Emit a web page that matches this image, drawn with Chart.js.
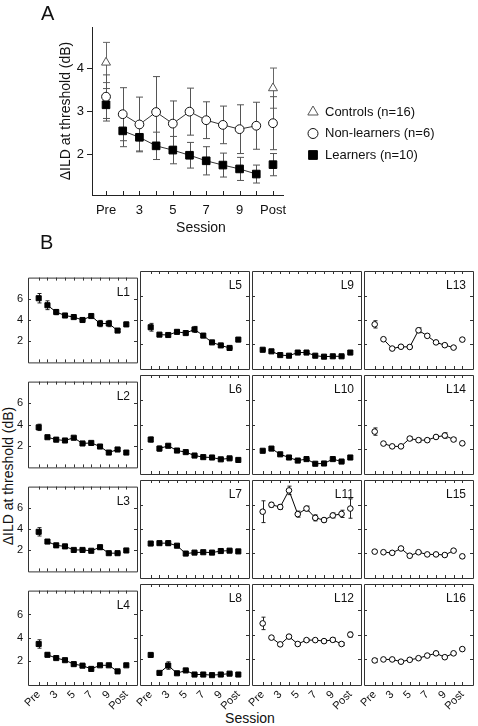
<!DOCTYPE html>
<html>
<head>
<meta charset="utf-8">
<script src="https://cdn.jsdelivr.net/npm/chart.js@4.4.0/dist/chart.umd.min.js"></script>
<style>
  body { margin: 0; background: #fff; }
  #wrap { position: relative; width: 478px; height: 726px; overflow: hidden; font-family: "Liberation Sans", Arial, sans-serif; color: #111; }
  #wrap canvas { position: absolute; }
  .txt { position: absolute; white-space: nowrap; }
</style>
</head>
<body>
<div id="wrap">
  <canvas id="chartA" width="478" height="240" style="left:0;top:0"></canvas>
  <div class="txt" style="left:41px;top:2px;font-size:20px">A</div>
  <div class="txt" style="left:151px;top:219px;width:100px;text-align:center;font-size:14px">Session</div>
  <div class="txt" style="left:40px;top:231px;font-size:20px">B</div>
  <div class="txt" style="left:-92px;top:468px;width:200px;text-align:center;font-size:14px;transform:rotate(-90deg)">ΔILD at threshold (dB)</div>
  <div class="txt" style="left:200px;top:710px;width:100px;text-align:center;font-size:14px">Session</div>
</div>
<script>
// session axis: index 0 = Pre, 1..9 = sessions 2..10, 10 = Post
const sessionIdx = [0, 1, 2, 3, 4, 5, 6, 7, 8, 9, 10];
const tickLabels = ['Pre', '', '3', '', '5', '', '7', '', '9', '', 'Post'];
const yTicksA = [2, 3, 4];
const yTicksB = [2, 4, 6];

// panel A: group means and half error bars
const controlsMean = [4.15, null, null, null, null, null, null, null, null, null, 3.55];
const controlsErr = [0.47, 0, 0, 0, 0, 0, 0, 0, 0, 0, 0.47];
const nonLearnersMean = [3.35, 2.94, 2.70, 2.99, 2.72, 3.00, 2.80, 2.69, 2.59, 2.67, 2.73];
const nonLearnersErr = [0.51, 0.62, 0.64, 0.83, 0.53, 0.55, 0.43, 0.44, 0.57, 0.55, 0.62];
const learnersMean = [3.16, 2.55, 2.40, 2.20, 2.10, 1.98, 1.85, 1.75, 1.66, 1.54, 1.76];
const learnersErr = [0.38, 0.37, 0.32, 0.32, 0.32, 0.30, 0.33, 0.28, 0.27, 0.21, 0.26];

// panel B: individual listeners (L1-L10 learners, L11-L16 non-learners)
const L1 = [6.08, 5.41, 4.76, 4.43, 4.28, 4.00, 4.38, 3.66, 3.66, 2.99, 3.58];
const L1e = [0.45, 0.42, 0.25, 0.12, 0.08, 0.08, 0.12, 0.30, 0.30, 0.12, 0.20];
const L2 = [3.73, 2.80, 2.57, 2.49, 2.75, 2.21, 2.26, 1.92, 1.35, 1.64, 1.35];
const L2e = [0.30, 0.08, 0.08, 0.08, 0.08, 0.08, 0.12, 0.08, 0.08, 0.12, 0.12];
const L3 = [3.73, 2.80, 2.44, 2.34, 2.00, 2.00, 1.92, 2.26, 1.69, 1.69, 1.95];
const L3e = [0.40, 0.10, 0.15, 0.10, 0.08, 0.08, 0.08, 0.20, 0.05, 0.05, 0.08];
const L4 = [3.47, 2.54, 2.26, 2.08, 1.74, 1.61, 1.33, 1.64, 1.64, 1.12, 1.64];
const L4e = [0.36, 0.15, 0.08, 0.10, 0.08, 0.08, 0.08, 0.08, 0.08, 0.05, 0.08];
const L5 = [3.40, 2.79, 2.76, 3.02, 2.92, 3.22, 2.71, 2.15, 1.90, 1.69, 2.38];
const L5e = [0.32, 0.08, 0.10, 0.15, 0.10, 0.25, 0.15, 0.05, 0.05, 0.05, 0.15];
const L6 = [2.77, 2.03, 2.26, 1.87, 1.74, 1.46, 1.33, 1.30, 1.15, 1.23, 1.10];
const L6e = [0.20, 0.20, 0.10, 0.05, 0.05, 0.05, 0.05, 0.05, 0.05, 0.05, 0.05];
const L7 = [2.80, 2.83, 2.83, 2.62, 1.97, 2.05, 2.08, 2.05, 2.18, 2.21, 2.15];
const L7e = [0.08, 0.12, 0.20, 0.08, 0.05, 0.05, 0.05, 0.05, 0.08, 0.05, 0.08];
const L8 = [2.36, 0.92, 1.51, 0.89, 1.12, 0.79, 0.79, 0.74, 0.79, 0.86, 0.79];
const L8e = [0.08, 0.05, 0.30, 0.05, 0.05, 0.05, 0.05, 0.05, 0.05, 0.05, 0.05];
const L9 = [1.54, 1.41, 1.10, 1.05, 1.31, 1.31, 1.05, 0.97, 1.00, 1.00, 1.31];
const L9e = [0.05, 0.05, 0.05, 0.05, 0.05, 0.05, 0.05, 0.05, 0.05, 0.05, 0.12];
const L10 = [1.85, 2.03, 1.56, 1.30, 1.05, 1.17, 0.79, 0.81, 1.17, 0.97, 1.30];
const L10e = [0.05, 0.05, 0.05, 0.05, 0.05, 0.05, 0.05, 0.05, 0.05, 0.05, 0.15];
const L11 = [5.43, 6.00, 5.82, 7.19, 5.23, 5.69, 4.92, 4.74, 5.12, 5.25, 5.69];
const L11e = [0.90, 0.20, 0.20, 0.35, 0.25, 0.20, 0.25, 0.15, 0.20, 0.30, 0.80];
const L12 = [4.89, 3.75, 3.21, 3.83, 3.24, 3.55, 3.55, 3.47, 3.57, 3.24, 3.99];
const L12e = [0.50, 0.12, 0.05, 0.10, 0.10, 0.08, 0.08, 0.12, 0.15, 0.12, 0.20];
const L13 = [3.64, 2.41, 1.64, 1.79, 1.77, 3.15, 2.69, 2.15, 1.92, 1.72, 2.38];
const L13e = [0.30, 0.08, 0.05, 0.05, 0.05, 0.20, 0.12, 0.05, 0.05, 0.05, 0.12];
const L14 = [3.42, 2.44, 2.21, 2.21, 2.85, 2.72, 2.72, 2.98, 3.10, 2.77, 2.46];
const L14e = [0.30, 0.05, 0.05, 0.08, 0.15, 0.15, 0.12, 0.10, 0.22, 0.12, 0.10];
const L15 = [2.13, 2.08, 2.03, 2.39, 1.79, 2.08, 1.90, 1.90, 1.85, 2.21, 1.74];
const L15e = [0.05, 0.10, 0.05, 0.10, 0.05, 0.05, 0.05, 0.05, 0.05, 0.05, 0.15];
const L16 = [1.92, 2.00, 2.00, 1.82, 1.97, 2.10, 2.31, 2.49, 2.18, 2.49, 2.83];
const L16e = [0.15, 0.05, 0.05, 0.05, 0.05, 0.05, 0.05, 0.10, 0.05, 0.05, 0.05];

const listenerMeans = [L1, L2, L3, L4, L5, L6, L7, L8, L9, L10, L11, L12, L13, L14, L15, L16];
const listenerErrs = [L1e, L2e, L3e, L4e, L5e, L6e, L7e, L8e, L9e, L10e, L11e, L12e, L13e, L14e, L15e, L16e];

Chart.defaults.font.family = '"Liberation Sans", Arial, sans-serif';
Chart.defaults.color = '#111';

const toPoints = arr => arr.map((v, i) => ({ x: sessionIdx[i], y: v }));
// Pre and Post are not joined to the training sessions
const hideEnds = color => ctx => (ctx.p0DataIndex === 0 || ctx.p1DataIndex === 10) ? 'rgba(0,0,0,0)' : color;

const errorBars = {
  id: 'errorBars',
  beforeDatasetsDraw(chart) {
    const { ctx, scales: { x, y } } = chart;
    ctx.save();
    ctx.lineWidth = 1;
    chart.data.datasets.forEach(ds => {
      if (!ds.errors) return;
      ctx.strokeStyle = ds.errorColor || '#000';
      const w = (ds.capWidth || 4) / 2;
      ds.data.forEach((p, i) => {
        const e = ds.errors[i];
        if (p.y == null || !e) return;
        const px = Math.round(x.getPixelForValue(p.x)) + 0.5;
        const t = y.getPixelForValue(p.y + e);
        const b = y.getPixelForValue(p.y - e);
        ctx.beginPath();
        ctx.moveTo(px, t); ctx.lineTo(px, b);
        ctx.moveTo(px - w, t); ctx.lineTo(px + w, t);
        ctx.moveTo(px - w, b); ctx.lineTo(px + w, b);
        ctx.stroke();
      });
    });
    ctx.restore();
  }
};

// panel box, inward tick marks and panel name
const panelFrame = {
  id: 'panelFrame',
  afterDraw(chart, args, o) {
    const { ctx, chartArea: a, scales: { x, y } } = chart;
    const len = o.len || 3;
    ctx.save();
    ctx.strokeStyle = o.color || '#333';
    ctx.lineWidth = 1;
    ctx.beginPath();
    if (o.box) ctx.rect(a.left + 0.5, a.top + 0.5, a.width, a.height);
    (o.xTicks || []).forEach(v => {
      const px = Math.round(x.getPixelForValue(v)) + 0.5;
      ctx.moveTo(px, a.bottom); ctx.lineTo(px, a.bottom - len);
      if (o.box) { ctx.moveTo(px, a.top); ctx.lineTo(px, a.top + len); }
    });
    (o.yTicks || []).forEach(v => {
      const py = Math.round(y.getPixelForValue(v)) + 0.5;
      ctx.moveTo(a.left, py); ctx.lineTo(a.left + len, py);
      if (o.box) { ctx.moveTo(a.right, py); ctx.lineTo(a.right - len, py); }
    });
    ctx.stroke();
    if (o.label) {
      ctx.fillStyle = '#111';
      ctx.font = '12px "Liberation Sans", Arial, sans-serif';
      ctx.textAlign = 'right';
      ctx.textBaseline = 'middle';
      ctx.fillText(o.label, a.right - 7, a.top + 15);
    }
    ctx.restore();
  }
};

const sideLegend = {
  id: 'sideLegend',
  afterDraw(chart, args, o) {
    if (!o.x) return;
    const { ctx } = chart;
    ctx.save();
    chart.data.datasets.forEach((ds, k) => {
      const cy = o.y + k * o.gap;
      ctx.fillStyle = ds.pointBackgroundColor;
      ctx.strokeStyle = ds.pointBorderColor;
      ctx.lineWidth = 1;
      Chart.helpers.drawPoint(ctx, { pointStyle: ds.pointStyle, radius: ds.legendRadius, borderWidth: 1, rotation: 0 }, o.x, cy);
      ctx.fillStyle = '#111';
      ctx.font = '13px "Liberation Sans", Arial, sans-serif';
      ctx.textAlign = 'left';
      ctx.textBaseline = 'middle';
      ctx.fillText(ds.label, o.x + 12, cy);
    });
    ctx.restore();
  }
};

const fixedTicks = vals => s => { s.ticks = vals.map(v => ({ value: v })); };

// ---------- panel A ----------
new Chart(document.getElementById('chartA'), {
  type: 'line',
  data: {
    datasets: [
      {
        label: 'Controls (n=16)', data: toPoints(controlsMean), errors: controlsErr,
        showLine: false, pointStyle: 'triangle', pointRadius: 5.2, legendRadius: 6,
        pointBackgroundColor: '#fff', pointBorderColor: '#555', pointBorderWidth: 1,
        errorColor: '#666', capWidth: 7
      },
      {
        label: 'Non-learners (n=6)', data: toPoints(nonLearnersMean), errors: nonLearnersErr,
        borderColor: '#333', borderWidth: 1, segment: { borderColor: hideEnds('#333') },
        pointStyle: 'circle', pointRadius: 4.4, legendRadius: 5,
        pointBackgroundColor: '#fff', pointBorderColor: '#111', pointBorderWidth: 1,
        errorColor: '#555', capWidth: 7
      },
      {
        label: 'Learners (n=10)', data: toPoints(learnersMean), errors: learnersErr,
        borderColor: '#333', borderWidth: 1, segment: { borderColor: hideEnds('#333') },
        pointStyle: 'rect', pointRadius: 5.4, legendRadius: 6.2,
        pointBackgroundColor: '#000', pointBorderColor: '#000', pointBorderWidth: 1,
        errorColor: '#555', capWidth: 7
      }
    ]
  },
  options: {
    responsive: false,
    animation: false,
    events: [],
    layout: { padding: { left: 50, top: 27, right: 195, bottom: 0 } },
    scales: {
      x: {
        type: 'linear', min: -0.84, max: 10.6,
        afterBuildTicks: fixedTicks(sessionIdx),
        afterFit: s => { s.height = 45; },
        grid: { display: false, drawTicks: false },
        border: { display: true, color: '#222' },
        ticks: { autoSkip: false, maxRotation: 0, padding: 8, font: { size: 13 }, callback: v => tickLabels[v] }
      },
      y: {
        min: 1.05, max: 4.98,
        afterBuildTicks: fixedTicks(yTicksA),
        afterFit: s => { s.width = 42; },
        grid: { display: true, drawOnChartArea: false, drawTicks: true, tickLength: 5, color: '#222' },
        border: { display: true, color: '#222' },
        ticks: { padding: 3, font: { size: 13 } },
        title: { display: true, text: 'ΔILD at threshold (dB)', font: { size: 14 }, padding: { top: 8, bottom: 0 } }
      }
    },
    plugins: {
      legend: { display: false },
      tooltip: { enabled: false },
      panelFrame: { box: false, xTicks: sessionIdx, len: 4, color: '#222' },
      sideLegend: { x: 313, y: 112, gap: 21.5 }
    }
  },
  plugins: [errorBars, panelFrame, sideLegend]
});

// ---------- panel B ----------
const colX = [28, 140, 252, 364, 476];
const rowY = [268, 372, 477, 581, 685];
const wrap = document.getElementById('wrap');

for (let c = 0; c < 4; c++) {
  for (let r = 0; r < 4; r++) {
    const idx = c * 4 + r;
    const learner = idx < 10;
    const showY = c === 0;
    const showX = r === 3;
    const left = colX[c] - (showY ? 28 : 24);
    const top = rowY[r] - 2;
    const right = colX[c + 1] + 2;
    const bottom = showX ? 726 : rowY[r + 1] + 2;
    const cv = document.createElement('canvas');
    cv.width = right - left;
    cv.height = bottom - top;
    cv.style.left = left + 'px';
    cv.style.top = top + 'px';
    wrap.appendChild(cv);

    new Chart(cv, {
      type: 'line',
      data: {
        datasets: [{
          data: toPoints(listenerMeans[idx]), errors: listenerErrs[idx],
          borderColor: '#000', borderWidth: 1, segment: { borderColor: hideEnds('#000') },
          pointStyle: learner ? 'rect' : 'circle', pointRadius: learner ? 3.6 : 2.8,
          pointBackgroundColor: learner ? '#000' : '#fff', pointBorderColor: '#000', pointBorderWidth: 1,
          errorColor: '#222', capWidth: 4
        }]
      },
      options: {
        responsive: false,
        animation: false,
        events: [],
        layout: { padding: { left: showY ? 0 : 24, top: 2, right: 2, bottom: showX ? 0 : 2 } },
        scales: {
          x: {
            type: 'linear', min: -1.22, max: 11.22, display: showX,
            afterBuildTicks: fixedTicks(sessionIdx),
            afterFit: s => { s.height = showX ? 41 : 0; },
            grid: { display: false, drawTicks: false },
            border: { display: false },
            ticks: { autoSkip: false, minRotation: 45, maxRotation: 45, padding: 3, font: { size: 11 }, callback: v => tickLabels[v] }
          },
          y: {
            min: -0.05, max: 8.05, display: showY,
            afterBuildTicks: fixedTicks(yTicksB),
            afterFit: s => { s.width = showY ? 28 : 0; },
            grid: { display: false, drawTicks: false },
            border: { display: false },
            ticks: { padding: 5, font: { size: 11 } }
          }
        },
        plugins: {
          legend: { display: false },
          tooltip: { enabled: false },
          panelFrame: { box: true, label: 'L' + (idx + 1), xTicks: sessionIdx, yTicks: yTicksB, len: 3, color: '#333' }
        }
      },
      plugins: [errorBars, panelFrame]
    });
  }
}
</script>
</body>
</html>
